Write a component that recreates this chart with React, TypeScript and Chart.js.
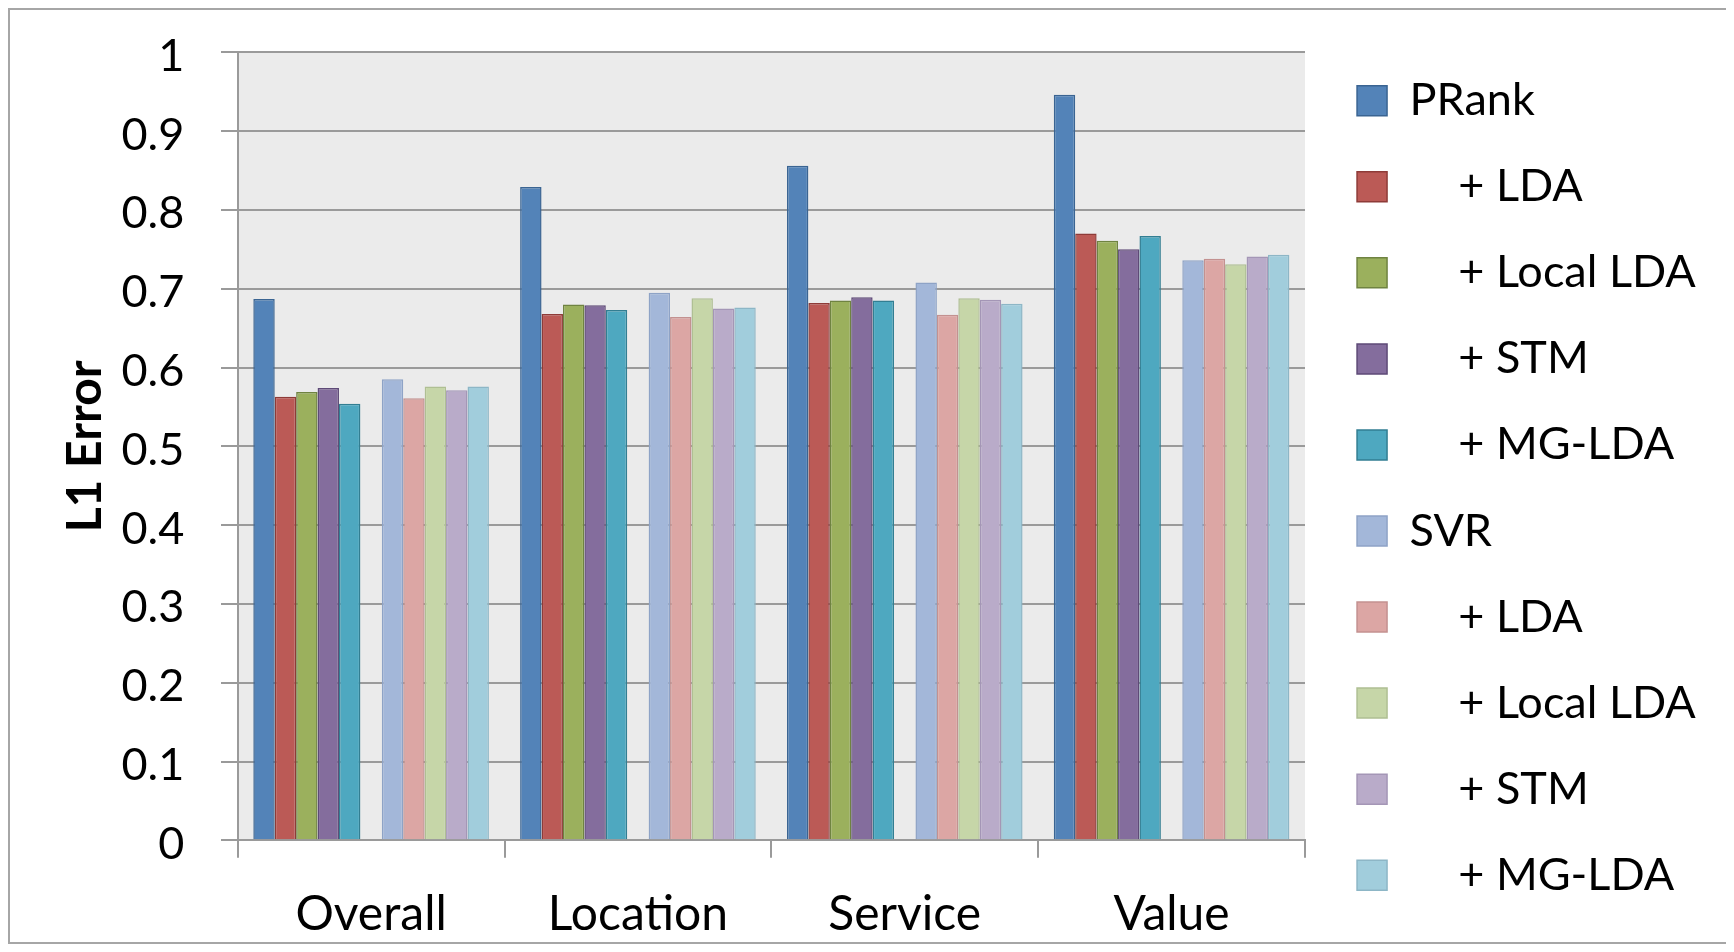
import { useEffect, useRef } from 'react';
import { Chart, registerables } from 'chart.js';

Chart.register(...registerables);

// Rating aspects on the x axis
const categories = ['Overall', 'Location', 'Service', 'Value'];

// L1 error per aspect
const prank = [0.687, 0.829, 0.856, 0.946];
const prankLda = [0.563, 0.668, 0.682, 0.77];
const prankLocalLda = [0.569, 0.68, 0.685, 0.761];
const prankStm = [0.574, 0.679, 0.689, 0.75];
const prankMgLda = [0.554, 0.673, 0.685, 0.767];
const svr = [0.585, 0.695, 0.708, 0.736];
const svrLda = [0.561, 0.664, 0.667, 0.738];
const svrLocalLda = [0.576, 0.688, 0.688, 0.731];
const svrStm = [0.571, 0.675, 0.686, 0.741];
const svrMgLda = [0.576, 0.676, 0.681, 0.743];

const yTickLabels = ['0', '0.1', '0.2', '0.3', '0.4', '0.5', '0.6', '0.7', '0.8', '0.9', '1'];

const INDENT = '\u2003\u2004';

const seriesLabels = [
  'PRank',
  INDENT + '+ LDA',
  INDENT + '+ Local LDA',
  INDENT + '+ STM',
  INDENT + '+ MG-LDA',
  'SVR',
  INDENT + '+ LDA',
  INDENT + '+ Local LDA',
  INDENT + '+ STM',
  INDENT + '+ MG-LDA',
];
const seriesValues = [
  prank, prankLda, prankLocalLda, prankStm, prankMgLda,
  svr, svrLda, svrLocalLda, svrStm, svrMgLda,
];
const seriesFill = [
  '#5383B8', '#BB5A56', '#9BB05D', '#846D9D', '#4EA8C0',
  '#A3B7D9', '#DCA6A4', '#C6D6A8', '#B9ABC9', '#A1CDDC',
];
const seriesBorder = [
  '#3A6492', '#8E3B38', '#6F8341', '#5E4A77', '#327E92',
  '#8EA3C6', '#C39190', '#AFBF93', '#A496B6', '#8DB6C6',
];

// canvas geometry
const W = 1716;
const H = 932;
const PLOT_LEFT = 227.7;
const PLOT_TOP = 42.3;
const PLOT_RIGHT = 1295;
const PLOT_BOTTOM = 830.3;
const PAD_LEFT = 8;
const PAD_TOP = 27.2;

const FONT = 'Lato';
const LEGEND_FONT = 45;
const LEGEND_BOX = 30;
const LEGEND_GAP = 41.05;
const LEGEND_SHIFT = 11;

const GRID = '#9A9A9A';

const plotBackground = {
  id: 'plotBackground',
  beforeDraw(chart: any) {
    const { ctx, chartArea: a } = chart;
    ctx.save();
    ctx.fillStyle = '#EBEBEB';
    ctx.fillRect(a.left, a.top, a.right - a.left, a.bottom - a.top);
    ctx.restore();
  },
};

const legendShift = {
  id: 'legendShift',
  afterLayout(chart: any) {
    const l = chart.legend;
    if (l) {
      l.left += LEGEND_SHIFT;
      l.right += LEGEND_SHIFT;
    }
  },
};

export default function App() {
  const canvasRef = useRef<HTMLCanvasElement | null>(null);

  useEffect(() => {
    const canvas = canvasRef.current;
    if (!canvas) return;
    const measure = canvas.getContext('2d')!;
    measure.font = `normal ${LEGEND_FONT}px ${FONT}`;
    const widest = Math.max(...seriesLabels.map((t) => measure.measureText(t).width));
    const legendWidth = LEGEND_GAP + LEGEND_BOX + LEGEND_FONT / 2 + widest + 10;
    const padRight = Math.max(0, W - PLOT_RIGHT - legendWidth);

    const datasets: any[] = [];
    seriesValues.forEach((values, i) => {
      if (i === 5) {
        // empty slot separating the PRank and SVR groups
        datasets.push({ label: '', data: categories.map(() => null) });
      }
      datasets.push({
        label: seriesLabels[i],
        data: values,
        backgroundColor: seriesFill[i],
        borderColor: seriesBorder[i],
        borderWidth: 1.5,
      });
    });

    const chart = new Chart(canvas, {
      type: 'bar',
      data: { labels: categories, datasets },
      plugins: [plotBackground, legendShift],
      options: {
        responsive: false,
        animation: false,
        devicePixelRatio: 1,
        events: [],
        layout: { padding: { left: PAD_LEFT, top: PAD_TOP, right: padRight, bottom: 0 } },
        datasets: { bar: { barPercentage: 1, categoryPercentage: 0.883 } },
        plugins: {
          tooltip: { enabled: false },
          legend: {
            position: 'right',
            align: 'start',
            labels: {
              color: '#000',
              font: { family: FONT, size: LEGEND_FONT },
              boxWidth: LEGEND_BOX,
              boxHeight: LEGEND_BOX,
              padding: LEGEND_GAP,
              filter: (item: any) => item.text !== '',
            },
          },
        },
        scales: {
          x: {
            grid: {
              offset: true,
              drawOnChartArea: false,
              drawTicks: true,
              tickLength: 17.4,
              color: GRID,
              lineWidth: 2,
            },
            border: { display: true, color: GRID, width: 2 },
            ticks: {
              color: '#000',
              font: { family: FONT, size: 48 },
              padding: 28,
              maxRotation: 0,
            },
            afterFit(scale: any) {
              scale.height = H - PLOT_BOTTOM;
              scale.paddingLeft = 0;
              scale.paddingRight = 0;
            },
          },
          y: {
            min: 0,
            max: 1,
            ticks: {
              stepSize: 0.1,
              color: '#000',
              font: { family: FONT, size: 45 },
              padding: 36.7,
              labelOffset: 4,
              callback: (_v: any, i: number) => yTickLabels[i],
            },
            grid: {
              color: GRID,
              lineWidth: 2,
              drawTicks: true,
              tickLength: 16.7,
            },
            border: { display: true, color: GRID, width: 2 },
            title: {
              display: true,
              text: 'L1 Error',
              color: '#000',
              font: { family: FONT, size: 48, weight: 'bold' },
              padding: { top: 39.2, bottom: 0 },
            },
            afterFit(scale: any) {
              scale.width = PLOT_LEFT - PAD_LEFT;
              scale.paddingTop = PLOT_TOP;
            },
          },
        },
      },
    } as any);

    return () => chart.destroy();
  }, []);

  return (
    <div
      style={{
        width: 1718,
        height: 936,
        boxSizing: 'border-box',
        borderLeft: '2px solid #A6A6A6',
        borderTop: '2px solid #A6A6A6',
        borderBottom: '2px solid #A6A6A6',
        position: 'relative',
      }}
    >
      <canvas ref={canvasRef} width={W} height={H} style={{ display: 'block', width: W, height: H }} />
    </div>
  );
}
